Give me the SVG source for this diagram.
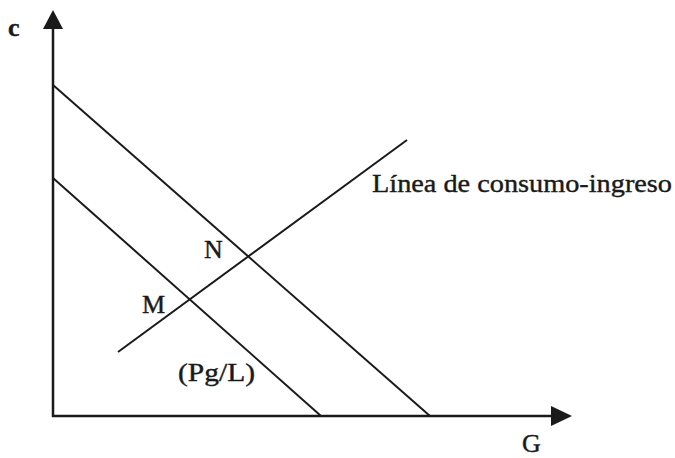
<svg xmlns="http://www.w3.org/2000/svg" width="675" height="458" viewBox="0 0 675 458">
<style>
.ax{stroke:#1a1a1a;stroke-width:2.5;fill:none}
.ln{stroke:#1a1a1a;stroke-width:2;fill:none}
.t{font-family:"Liberation Serif","Times New Roman",serif;font-size:26px;fill:#1a1a1a;stroke:#1a1a1a;stroke-width:0.4}
</style>
<rect width="675" height="458" fill="#fff"/>
<g id="connectors">
<polyline class="ax" points="53,28 53,416 553,416"/>
<polygon points="53,10 43,29 63,29" fill="#1a1a1a"/>
<polygon points="572,416 551,406 551,426" fill="#1a1a1a"/>
<line class="ln" x1="53" y1="85" x2="430" y2="416"/>
<line class="ln" x1="53" y1="178" x2="321" y2="416"/>
<line class="ln" x1="118" y1="352" x2="407" y2="140"/>
</g>
<g id="label-c"><text class="t" x="8" y="36" font-weight="bold">c</text></g>
<g id="label-G"><text class="t" x="522" y="452" font-size="25">G</text></g>
<g id="label-linea"><text class="t" x="372" y="192" textLength="300" lengthAdjust="spacingAndGlyphs">Línea de consumo-ingreso</text></g>
<g id="label-N"><text class="t" x="204" y="258">N</text></g>
<g id="label-M"><text class="t" x="142" y="313">M</text></g>
<g id="label-PgL"><text class="t" x="178" y="381" textLength="77" lengthAdjust="spacingAndGlyphs">(Pg/L)</text></g>
</svg>
